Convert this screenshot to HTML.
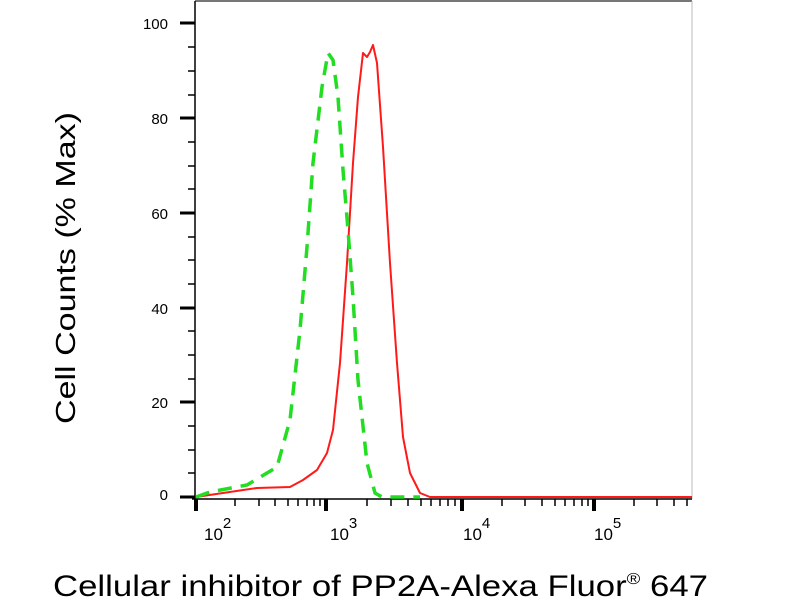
<!DOCTYPE html>
<html><head><meta charset="utf-8"><style>
html,body{margin:0;padding:0;background:#fff;width:800px;height:600px;overflow:hidden}
svg{display:block}
text{font-family:"Liberation Sans",Arial,sans-serif;fill:#000}
</style></head><body>
<svg width="800" height="600" viewBox="0 0 800 600" xmlns="http://www.w3.org/2000/svg">
<line x1="195" y1="1" x2="692" y2="1" stroke="#777" stroke-width="2"/>
<line x1="692" y1="1" x2="692" y2="499" stroke="#bbb" stroke-width="1"/>
<line x1="195" y1="1" x2="195" y2="499" stroke="#000" stroke-width="1.5"/>
<line x1="192" y1="499" x2="692" y2="499" stroke="#000" stroke-width="1.5"/>
<g stroke="#000" stroke-width="3">
<line x1="180" y1="23" x2="195" y2="23"/><line x1="180" y1="118" x2="195" y2="118"/>
<line x1="180" y1="213" x2="195" y2="213"/><line x1="180" y1="308" x2="195" y2="308"/>
<line x1="180" y1="402" x2="195" y2="402"/><line x1="180" y1="497" x2="195" y2="497"/>
</g>
<g stroke="#000" stroke-width="1.5">
<line x1="188" y1="47" x2="195" y2="47"/><line x1="188" y1="71" x2="195" y2="71"/><line x1="188" y1="95" x2="195" y2="95"/>
<line x1="188" y1="142" x2="195" y2="142"/><line x1="188" y1="166" x2="195" y2="166"/><line x1="188" y1="189" x2="195" y2="189"/>
<line x1="188" y1="237" x2="195" y2="237"/><line x1="188" y1="260" x2="195" y2="260"/><line x1="188" y1="284" x2="195" y2="284"/>
<line x1="188" y1="331" x2="195" y2="331"/><line x1="188" y1="355" x2="195" y2="355"/><line x1="188" y1="379" x2="195" y2="379"/>
<line x1="188" y1="426" x2="195" y2="426"/><line x1="188" y1="450" x2="195" y2="450"/><line x1="188" y1="473" x2="195" y2="473"/>
</g>
<g font-size="15" text-anchor="end">
<text x="168" y="29">100</text><text x="168" y="124">80</text><text x="168" y="219">60</text>
<text x="168" y="314">40</text><text x="168" y="408">20</text><text x="168" y="500">0</text>
</g>
<g stroke="#000" stroke-width="4">
<line x1="196" y1="499" x2="196" y2="511"/><line x1="326" y1="499" x2="326" y2="511"/>
<line x1="462" y1="499" x2="462" y2="511"/><line x1="594" y1="499" x2="594" y2="511"/>
</g>
<g stroke="#000" stroke-width="1.5">
<line x1="235" y1="499" x2="235" y2="506"/><line x1="259" y1="499" x2="259" y2="506"/><line x1="275" y1="499" x2="275" y2="506"/>
<line x1="288" y1="499" x2="288" y2="506"/><line x1="298" y1="499" x2="298" y2="506"/><line x1="307" y1="499" x2="307" y2="506"/>
<line x1="314" y1="499" x2="314" y2="506"/><line x1="320" y1="499" x2="320" y2="506"/>
<line x1="367" y1="499" x2="367" y2="506"/><line x1="391" y1="499" x2="391" y2="506"/><line x1="408" y1="499" x2="408" y2="506"/>
<line x1="421" y1="499" x2="421" y2="506"/><line x1="431" y1="499" x2="431" y2="506"/><line x1="440" y1="499" x2="440" y2="506"/>
<line x1="448" y1="499" x2="448" y2="506"/><line x1="455" y1="499" x2="455" y2="506"/>
<line x1="502" y1="499" x2="502" y2="506"/><line x1="525" y1="499" x2="525" y2="506"/><line x1="542" y1="499" x2="542" y2="506"/>
<line x1="555" y1="499" x2="555" y2="506"/><line x1="565" y1="499" x2="565" y2="506"/><line x1="574" y1="499" x2="574" y2="506"/>
<line x1="582" y1="499" x2="582" y2="506"/><line x1="588" y1="499" x2="588" y2="506"/>
<line x1="634" y1="499" x2="634" y2="506"/><line x1="657" y1="499" x2="657" y2="506"/><line x1="674" y1="499" x2="674" y2="506"/>
<line x1="687" y1="499" x2="687" y2="506"/>
</g>
<g font-size="17">
<text x="204" y="540">10<tspan font-size="15" dy="-12">2</tspan></text>
<text x="330" y="540">10<tspan font-size="15" dy="-12">3</tspan></text>
<text x="463" y="540">10<tspan font-size="15" dy="-12">4</tspan></text>
<text x="594" y="540">10<tspan font-size="15" dy="-12">5</tspan></text>
</g>
<polyline fill="none" stroke="#ff1a1a" stroke-width="2" stroke-linejoin="round" points="196,497 223,493 257,488 290,487 303,480 317,470 327,453 333,430 340,363 347,263 353,163 358,97 363,53 367,57 370,52 373,45 377,63 383,147 390,263 397,363 403,437 410,473 420,493 430,497 692,497"/>
<polyline fill="none" stroke="#22dd22" stroke-width="3.5" stroke-dasharray="14,9" points="196,497 210,492 247,485 277,467 290,420 300,330 307,247 313,163 322,87 328,53 333,60 338,97 343,170 348,230 353,297 358,380 367,463 375,493 382,497 420,497"/>
<text transform="translate(75,268) rotate(-90)" font-size="28" text-anchor="middle" textLength="312" lengthAdjust="spacingAndGlyphs">Cell Counts (% Max)</text>
<text x="53" y="596" font-size="30" textLength="655" lengthAdjust="spacingAndGlyphs">Cellular inhibitor of PP2A-Alexa Fluor<tspan font-size="16" dy="-12">®</tspan><tspan dy="12"> 647</tspan></text>
</svg>
</body></html>
